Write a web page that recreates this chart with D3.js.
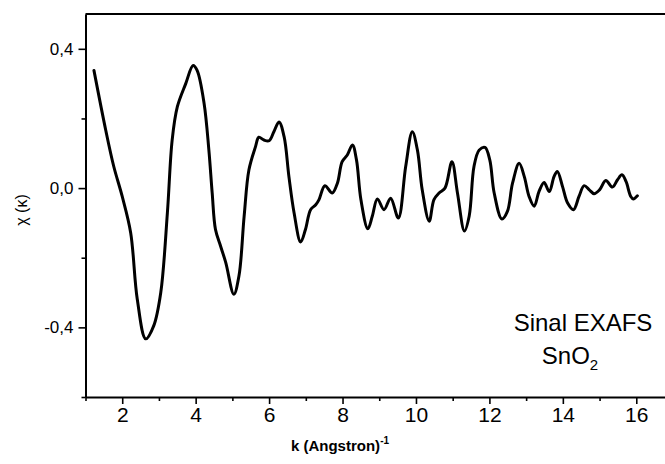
<!DOCTYPE html>
<html><head><meta charset="utf-8">
<script src="https://cdn.jsdelivr.net/npm/d3@7"></script>
<style>
html,body{margin:0;padding:0;background:#fff;}
svg text{font-family:"Liberation Sans",Arial,sans-serif;fill:#000;}
</style></head>
<body><svg id="c" width="665" height="464"></svg>
<script>
const kValues = [1.23,1.55,1.77,2.0,2.23,2.41,2.64,2.86,3.05,3.23,3.36,3.5,3.73,3.93,4.04,4.23,4.36,4.45,4.54,4.68,4.82,5.04,5.18,5.32,5.45,5.63,5.72,5.86,6.0,6.13,6.27,6.41,6.54,6.68,6.86,6.99,7.13,7.27,7.36,7.52,7.72,7.86,7.99,8.13,8.27,8.38,8.50,8.69,8.81,8.95,9.13,9.31,9.52,9.72,9.90,10.04,10.17,10.36,10.49,10.63,10.79,10.98,11.13,11.32,11.45,11.58,11.72,11.88,12.01,12.13,12.34,12.49,12.63,12.81,12.95,13.08,13.22,13.35,13.49,13.63,13.76,13.85,13.99,14.13,14.29,14.44,14.58,14.72,14.85,15.0,15.17,15.35,15.49,15.61,15.72,15.85,15.92,16.03];
const chiValues = [0.338,0.167,0.062,-0.024,-0.128,-0.319,-0.433,-0.395,-0.30,-0.071,0.138,0.233,0.30,0.352,0.338,0.243,0.109,-0.014,-0.119,-0.167,-0.214,-0.305,-0.252,-0.081,0.052,0.119,0.146,0.138,0.136,0.162,0.19,0.147,0.033,-0.071,-0.155,-0.119,-0.062,-0.048,-0.033,0.007,-0.014,0.014,0.076,0.095,0.124,0.081,-0.033,-0.117,-0.081,-0.031,-0.062,-0.029,-0.086,0.062,0.162,0.109,-0.005,-0.095,-0.033,-0.014,0.0,0.076,-0.014,-0.123,-0.08,0.062,0.109,0.117,0.081,-0.014,-0.089,-0.067,0.014,0.071,0.033,-0.024,-0.052,-0.010,0.016,-0.010,0.033,0.048,0.005,-0.043,-0.062,-0.024,0.007,-0.005,-0.016,-0.005,0.022,0.003,0.024,0.038,0.019,-0.024,-0.031,-0.022];
const xMajorTicks = [2,4,6,8,10,12,14,16];
const xMinorTicks = [1,3,5,7,9,11,13,15,17];
const yMajorTicks = [-0.4,0.0,0.4];
const yMinorTicks = [-0.6,-0.2,0.2];
const xTitle = "k (Angstron)";
const yTitle = "χ (κ)";
const labelLine1 = "Sinal EXAFS";

const svg = d3.select("#c");
const x = d3.scaleLinear().domain([1,17]).range([85.5,673]);
const y = d3.scaleLinear().domain([-0.6,0.5]).range([397,14]);
const fmt = d => d3.format(".1f")(d).replace(".", ",").replace("−","-");

// top frame line
svg.append("line").attr("x1",x(1)).attr("x2",x(17)).attr("y1",y(0.5)).attr("y2",y(0.5))
  .attr("stroke","#000").attr("stroke-width",2);

// x axis
const gx = svg.append("g").attr("transform",`translate(0,${y(-0.6)})`);
gx.call(d3.axisBottom(x).tickValues(xMinorTicks).tickSize(4).tickFormat(""));
gx.call(g=>g.select(".domain").remove());
const gx2 = svg.append("g").attr("transform",`translate(0,${y(-0.6)})`)
  .call(d3.axisBottom(x).tickValues(xMajorTicks).tickSize(7).tickSizeOuter(0).tickPadding(3).tickFormat(d3.format("d")));
gx2.selectAll("text").attr("font-size",21).attr("font-family","Liberation Sans, Arial");

// y axis
const gy = svg.append("g").attr("transform",`translate(${x(1)},0)`);
gy.call(d3.axisLeft(y).tickValues(yMinorTicks).tickSize(4).tickFormat(""));
gy.call(g=>g.select(".domain").remove());
const gy2 = svg.append("g").attr("transform",`translate(${x(1)},0)`)
  .call(d3.axisLeft(y).tickValues(yMajorTicks).tickSize(7).tickSizeOuter(0).tickPadding(5).tickFormat(fmt));
gy2.selectAll("text").attr("font-size",17).attr("font-family","Liberation Sans, Arial");
svg.selectAll(".domain").attr("stroke-width",2).attr("stroke","#000");
svg.selectAll(".tick line").attr("stroke-width",1.6).attr("stroke","#000");

// curve
const pts = kValues.map((k,i)=>[k, chiValues[i]]);
const line = d3.line().x(d=>x(d[0])).y(d=>y(d[1])).curve(d3.curveCatmullRom.alpha(0.5));
svg.append("path").attr("d",line(pts)).attr("fill","none").attr("stroke","#000")
  .attr("stroke-width",3).attr("stroke-linejoin","round").attr("stroke-linecap","round");

// axis titles
const xt = svg.append("text").attr("x",340).attr("y",451).attr("text-anchor","middle")
  .attr("font-size",15).attr("font-weight","bold");
xt.append("tspan").text(xTitle);
xt.append("tspan").attr("dy",-7).attr("font-size",10).text("-1");

svg.append("text").attr("transform","translate(27,210) rotate(-90)").attr("text-anchor","middle")
  .attr("font-size",16).text(yTitle);

// annotation
svg.append("text").attr("x",583).attr("y",331).attr("text-anchor","middle").attr("font-size",24)
  .text(labelLine1);
const t2 = svg.append("text").attr("x",570).attr("y",364).attr("text-anchor","middle").attr("font-size",24);
t2.append("tspan").text("SnO");
t2.append("tspan").attr("dy",6).attr("font-size",15).text("2");
</script></body></html>
